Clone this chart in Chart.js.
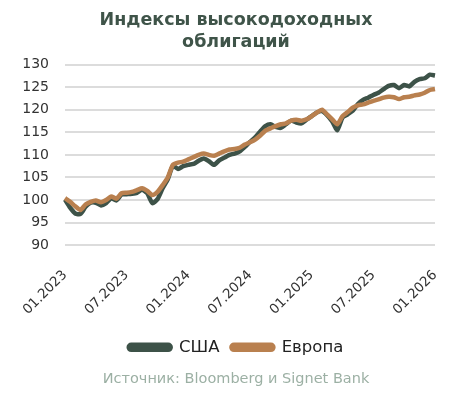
<!DOCTYPE html>
<html>
<head>
<meta charset="utf-8">
<script src="https://cdn.jsdelivr.net/npm/chart.js@4"></script>
<style>
  html, body { margin: 0; padding: 0; background: #fff; }
  #wrap { width: 472px; height: 396px; }
</style>
</head>
<body>
<div id="wrap"><canvas id="hyChart"></canvas></div>
<script>
// Полумесячные точки, 01.2023 - 01.2026
const dates = [];
for (let y = 2023; y <= 2026; y++) {
  for (let m = 1; m <= 12; m++) {
    if (y === 2026 && m > 1) break;
    const mm = String(m).padStart(2, '0');
    dates.push(mm + '.' + y);
    if (!(y === 2026)) dates.push('15.' + mm + '.' + y);
  }
}

const usa = [
  100.1, 98.3, 97.0, 96.9, 98.5, 99.4, 99.4, 98.8, 99.3, 100.4,
  99.9, 101.2, 101.3, 101.4, 101.6, 102.3, 101.5, 99.3, 100.2, 102.6,
  104.6, 107.6, 106.9, 107.5, 107.8, 108.0, 108.7, 109.2, 108.6, 107.8,
  108.8, 109.4, 110.0, 110.3, 110.8, 111.8, 112.9, 113.9, 115.2, 116.4,
  116.8, 116.2, 116.0, 116.8, 117.6, 117.2, 117.0, 117.8, 118.6, 119.4,
  119.7, 118.8, 117.4, 115.5, 118.3, 119.0, 119.8, 121.3, 122.2, 122.7,
  123.3, 123.8, 124.6, 125.3, 125.5, 124.8, 125.5, 125.2, 126.2, 126.8,
  127.0, 127.8, 127.6
];

const europe = [
  100.4, 99.6, 98.6, 97.8, 99.0, 99.6, 99.9, 99.5, 100.0, 100.8,
  100.3, 101.5, 101.6, 101.8, 102.2, 102.6, 102.0, 101.1, 101.8, 103.3,
  105.0, 107.8, 108.3, 108.5, 109.0, 109.5, 110.0, 110.3, 110.0, 109.8,
  110.3, 110.8, 111.2, 111.3, 111.6, 112.3, 112.8, 113.4, 114.3, 115.4,
  115.9, 116.4, 116.8, 117.0, 117.6, 117.8, 117.6, 117.9, 118.6, 119.4,
  120.0, 119.0, 117.9, 116.8, 118.6, 119.5, 120.5, 121.0, 121.2, 121.6,
  122.0, 122.3, 122.7, 122.9, 122.8, 122.4, 122.8, 122.9, 123.2, 123.4,
  123.8, 124.4, 124.6
];

const font = "'DejaVu Sans', sans-serif";

new Chart(document.getElementById('hyChart'), {
  type: 'line',
  data: {
    labels: dates,
    datasets: [
      {
        label: 'США',
        data: usa,
        borderColor: '#3d5248',
        backgroundColor: '#3d5248',
        borderWidth: 4.5,
        pointRadius: 0,
        tension: 0.2,
        order: 1
      },
      {
        label: 'Европа',
        data: europe,
        borderColor: '#b9804f',
        backgroundColor: '#b9804f',
        borderWidth: 4.5,
        pointRadius: 0,
        tension: 0.2,
        order: 0
      }
    ]
  },
  options: {
    responsive: true,
    maintainAspectRatio: false,
    animation: false,
    layout: { padding: { left: 22, right: 22, top: 10, bottom: 8 } },
    plugins: {
      title: {
        display: true,
        text: ['Индексы высокодоходных', 'облигаций'],
        color: '#3f5449',
        font: { family: font, size: 17.5, weight: 'bold', lineHeight: 1.25 },
        padding: { top: 0, bottom: 11 }
      },
      subtitle: {
        display: true,
        position: 'bottom',
        text: 'Источник: Bloomberg и Signet Bank',
        color: '#9cb0a4',
        font: { family: font, size: 14.5 },
        padding: { top: 5, bottom: 0 }
      },
      legend: {
        position: 'bottom',
        labels: {
          color: '#222',
          font: { family: font, size: 16.5 },
          boxWidth: 42,
          boxHeight: 5,
          useBorderRadius: true,
          borderRadius: 2.5,
          padding: 12,
          sort: (a, b) => a.datasetIndex - b.datasetIndex
        }
      },
      tooltip: { enabled: false }
    },
    scales: {
      x: {
        grid: { display: false },
        border: { display: false },
        ticks: {
          autoSkip: false,
          minRotation: 45,
          maxRotation: 45,
          padding: 14,
          color: '#333',
          font: { family: font, size: 13.5 },
          callback: function(value, index) {
            return index % 12 === 0 ? this.getLabelForValue(value) : null;
          }
        },
        afterFit: function(scale) {
          // подписи не должны сдвигать область графика
          scale.paddingLeft = 0;
          scale.paddingRight = 0;
          scale.height = 82;
        }
      },
      y: {
        min: 90,
        max: 130,
        border: { display: false },
        grid: { color: '#dcdcdc', lineWidth: 2, drawTicks: false },
        ticks: {
          stepSize: 5,
          color: '#333',
          padding: 16,
          font: { family: font, size: 14 }
        },
        afterFit: function(scale) { scale.width = 43; }
      },
      // пустая ось справа, только для отступа
      yRight: {
        position: 'right',
        grid: { display: false },
        border: { display: false },
        ticks: { display: false },
        afterFit: function(scale) { scale.width = 15; }
      }
    }
  }
});
</script>
</body>
</html>
